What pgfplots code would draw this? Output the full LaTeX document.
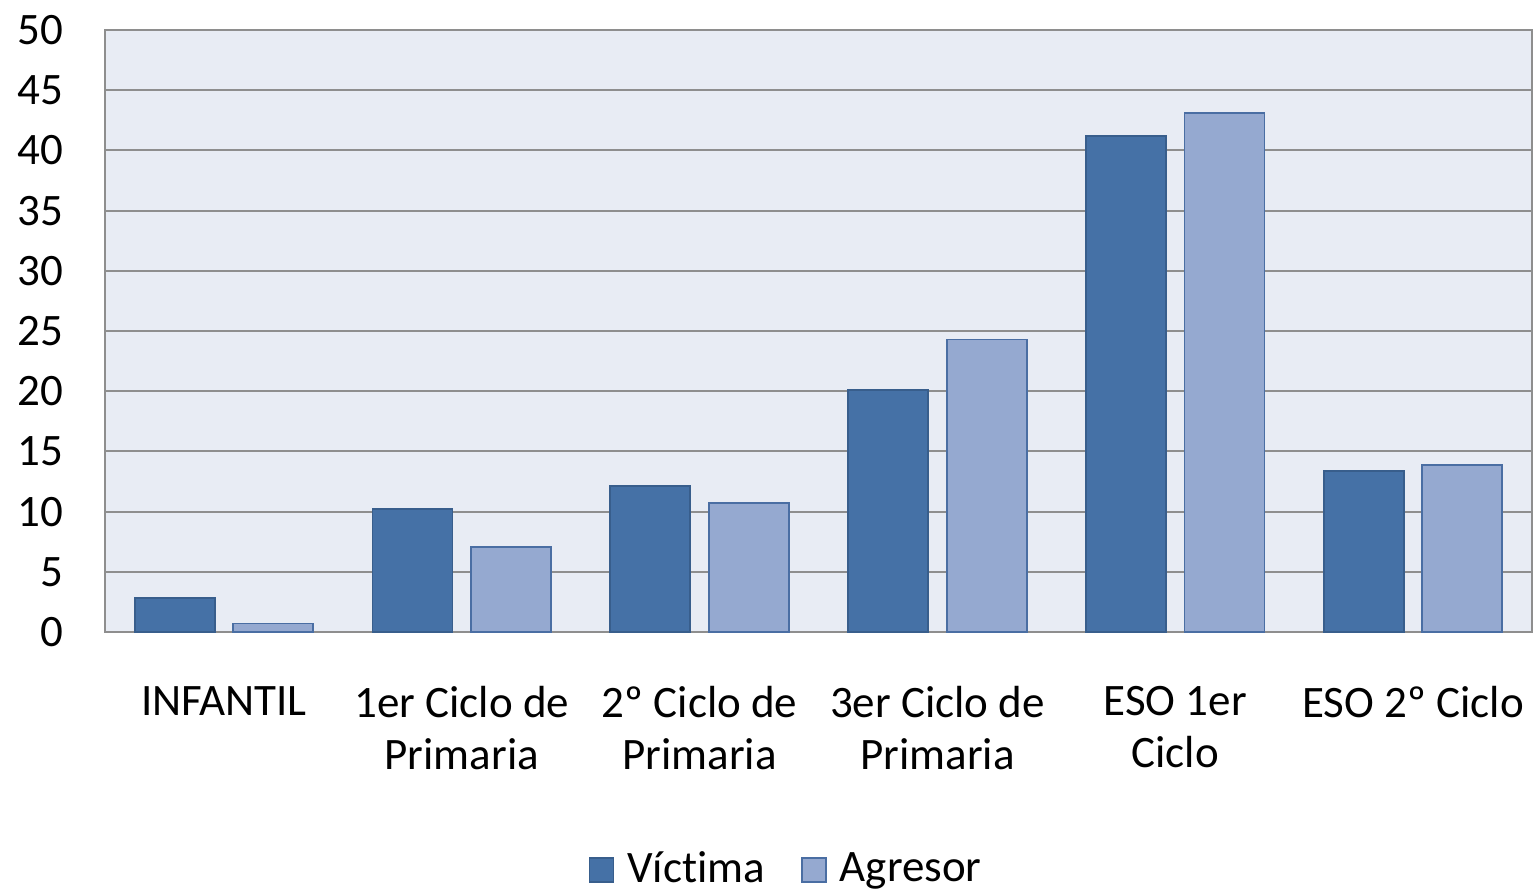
\documentclass[border=0pt]{standalone}
\usepackage{fontspec}
\setmainfont{Carlito}[Ligatures=NoCommon]
\usepackage{pgfplots}
\pgfplotsset{compat=1.18}
\definecolor{VicFill}{HTML}{4571A6}
\definecolor{VicLine}{HTML}{385E8C}
\definecolor{AgrFill}{HTML}{95A9D0}
\definecolor{AgrLine}{HTML}{4A6EA3}
\definecolor{PlotBg}{HTML}{E8ECF4}
\definecolor{GridGray}{HTML}{8E8E8E}

\begin{document}
\begin{tikzpicture}
  \useasboundingbox (-1.05,-2.59) rectangle (14.29,6.32);
  \begin{axis}[
    at={(0,0)},anchor=south west,
    scale only axis,width=14.27cm,height=6.02cm,
    axis background/.style={fill=PlotBg},
    ybar=0.185cm,bar width=0.80cm,
    xmin=-0.5,xmax=5.5,ymin=0,ymax=50,
    xtick=data,
    xticklabels={INFANTIL,1er Ciclo de\\Primaria,2º Ciclo de\\Primaria,3er Ciclo de\\Primaria,ESO 1er\\Ciclo,ESO 2º Ciclo},
    xticklabel style={font=\fontsize{12.8}{14.8}\selectfont,align=center,anchor=north,yshift=-0.42cm,text depth=0pt},
    ytick={0,5,...,50},
    yticklabel style={font=\fontsize{12.8}{14}\selectfont,xshift=-0.29cm},
    /pgf/number format/assume math mode=true,
    major tick length=0pt,
    ymajorgrids,grid style={GridGray,line width=0.6pt},
    axis line style={GridGray,line width=0.6pt},
    legend style={font=\fontsize{12.8}{14}\selectfont,draw=none,fill=none,
      at={(0.479,-0.395)},anchor=center,legend columns=2,
      /tikz/every even column/.append style={column sep=0.29cm},
      /tikz/every odd column/.append style={column sep=0.06cm}},
    legend image code/.code={\draw[#1,line width=0.5pt] (0cm,-0.12cm) rectangle (0.24cm,0.12cm);},
  ]
    \addplot[fill=VicFill,draw=VicLine,line width=0.5pt] coordinates {(0,2.8) (1,10.2) (2,12.1) (3,20.1) (4,41.2) (5,13.4)};
    \addplot[fill=AgrFill,draw=AgrLine,line width=0.5pt] coordinates {(0,0.7) (1,7.05) (2,10.7) (3,24.3) (4,43.1) (5,13.9)};
    \legend{Víct\kern0pt ima,Agresor}
  \end{axis}
\end{tikzpicture}
\end{document}
